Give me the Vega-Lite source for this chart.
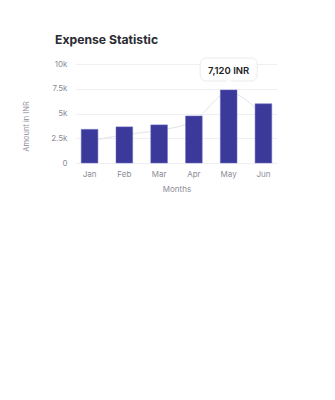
{
  "$schema": "https://vega.github.io/schema/vega-lite/v6.json",
  "autosize": {"type": "none"},
  "width": 201,
  "height": 99,
  "padding": {"left": 76, "top": 64, "right": 58, "bottom": 237},
  "background": "white",
  "title": {
    "text": "Expense Statistic",
    "anchor": "start",
    "frame": "group",
    "dx": -21,
    "offset": 11,
    "font": "Inter",
    "fontSize": 12.2,
    "fontWeight": "bold",
    "color": "#2a2b33"
  },
  "config": {
    "view": {"stroke": null},
    "font": "Inter",
    "axis": {
      "labelFont": "Inter",
      "titleFont": "Inter",
      "labelColor": "#8c8c96",
      "titleColor": "#8c8c96",
      "labelFontSize": 8,
      "titleFontSize": 8,
      "titleFontWeight": "normal",
      "labelOverlap": false,
      "domain": false,
      "ticks": false
    },
    "axisY": {
      "labelPadding": 9,
      "titlePadding": 20,
      "titleFontSize": 7.5,
      "titleY": 62,
      "gridColor": "#efeff3",
      "gridWidth": 1
    }
  },
  "data": {
    "values": [
      {"month": "Jan", "amount": 3400, "trend": 2200},
      {"month": "Feb", "amount": 3650, "trend": 2870},
      {"month": "Mar", "amount": 3850, "trend": 3300},
      {"month": "Apr", "amount": 4750, "trend": 4250},
      {"month": "May", "amount": 7380, "trend": 7120},
      {"month": "Jun", "amount": 5980, "trend": 4750}
    ]
  },
  "encoding": {
    "x": {
      "field": "month",
      "type": "nominal",
      "sort": null,
      "scale": {"paddingInner": 0.52, "paddingOuter": 0.15},
      "axis": {"title": "Months", "labelAngle": 0, "labelPadding": 7, "titlePadding": 7, "grid": false}
    }
  },
  "layer": [
    {
      "mark": {"type": "line", "interpolate": "monotone", "color": "#e3e3ea", "strokeWidth": 1},
      "encoding": {
        "y": {
          "field": "trend",
          "type": "quantitative",
          "scale": {"domain": [0, 10000]},
          "title": "Amount in INR",
          "axis": {"values": [0, 2500, 5000, 7500, 10000], "labelExpr": "datum.value == 0 ? '0' : format(datum.value / 1000, '~g') + 'k'"}
        }
      }
    },
    {
      "mark": {"type": "bar", "color": "#3b3a9b", "stroke": "#6d6cc0", "strokeWidth": 0.5},
      "encoding": {
        "y": {
          "field": "amount",
          "type": "quantitative",
          "title": "Amount in INR",
          "axis": {"values": [0, 2500, 5000, 7500, 10000], "labelExpr": "datum.value == 0 ? '0' : format(datum.value / 1000, '~g') + 'k'"}
        }
      }
    },
    {
      "transform": [{"filter": "datum.month == 'May'"}],
      "mark": {"type": "bar", "width": 57, "yOffset": -34.5, "y2Offset": -11.5, "fill": "white", "stroke": "#ebebef", "strokeWidth": 1, "cornerRadius": 6, "clip": false},
      "encoding": {
        "y": {
          "field": "trend",
          "type": "quantitative",
          "title": "Amount in INR",
          "axis": {"values": [0, 2500, 5000, 7500, 10000], "labelExpr": "datum.value == 0 ? '0' : format(datum.value / 1000, '~g') + 'k'"}
        },
        "y2": {"field": "trend"}
      }
    },
    {
      "transform": [{"filter": "datum.month == 'May'"}],
      "mark": {"type": "point", "shape": "triangle-down", "size": 30, "yOffset": -10, "filled": true, "color": "white", "opacity": 1},
      "encoding": {
        "y": {
          "field": "trend",
          "type": "quantitative",
          "title": "Amount in INR",
          "axis": {"values": [0, 2500, 5000, 7500, 10000], "labelExpr": "datum.value == 0 ? '0' : format(datum.value / 1000, '~g') + 'k'"}
        }
      }
    },
    {
      "transform": [
        {"filter": "datum.month == 'May'"},
        {"calculate": "format(datum.trend, ',.0f') + ' INR'", "as": "label"}
      ],
      "mark": {"type": "text", "dy": -22, "font": "Inter", "fontSize": 9.5, "fontWeight": 600, "color": "#222228"},
      "encoding": {
        "y": {
          "field": "trend",
          "type": "quantitative",
          "title": "Amount in INR",
          "axis": {"values": [0, 2500, 5000, 7500, 10000], "labelExpr": "datum.value == 0 ? '0' : format(datum.value / 1000, '~g') + 'k'"}
        },
        "text": {"field": "label", "type": "nominal"}
      }
    }
  ],
  "resolve": {"scale": {"y": "shared"}}
}
